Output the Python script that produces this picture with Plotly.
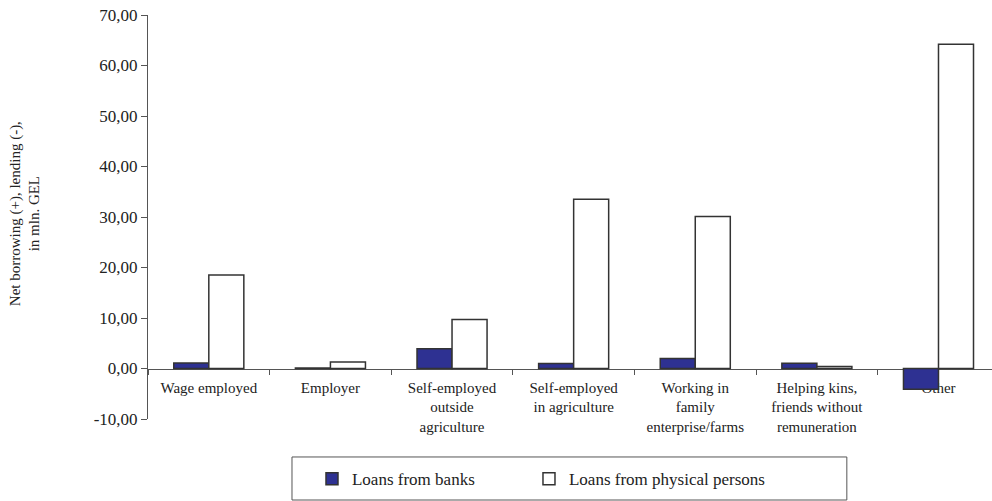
import plotly.graph_objects as go

# Categories of employment status
categories = [
    "Wage employed",
    "Employer",
    "Self-employed<br>outside<br>agriculture",
    "Self-employed<br>in agriculture",
    "Working in<br>family<br>enterprise/farms",
    "Helping kins,<br>friends without<br>remuneration",
    "Other",
]

# Net borrowing (+) / lending (-), mln GEL
loans_from_banks = [1.1, 0.1, 3.9, 1.0, 2.0, 1.05, -4.1]
loans_from_persons = [18.5, 1.3, 9.7, 33.5, 30.1, 0.4, 64.2]

y_ticks = [-10, 0, 10, 20, 30, 40, 50, 60, 70]
y_tick_labels = ["-10,00", "0,00", "10,00", "20,00", "30,00",
                 "40,00", "50,00", "60,00", "70,00"]

FONT = "Liberation Serif, Times New Roman, serif"
INK = "#333333"

fig = go.Figure()
fig.add_trace(go.Bar(
    x=categories, y=loans_from_banks, name="Loans from banks",
    marker=dict(color="#2E3192", line=dict(color=INK, width=1.5)),
    legend="legend",
))
fig.add_trace(go.Bar(
    x=categories, y=loans_from_persons, name="Loans from physical persons",
    marker=dict(color="#ffffff", line=dict(color=INK, width=1.5)),
    legend="legend2",
))

legend_style = dict(
    orientation="h", xanchor="left", y=-0.149, yanchor="middle",
    font=dict(family=FONT, size=17, color="#222"),
    itemwidth=30, bgcolor="rgba(0,0,0,0)",
)

fig.update_layout(
    width=992, height=501,
    margin=dict(l=148, r=0, t=15, b=82),
    paper_bgcolor="white", plot_bgcolor="white",
    barmode="group", bargap=0.424, bargroupgap=0,
    font=dict(family=FONT, size=14, color=INK),
    showlegend=True,
    legend=dict(legend_style, x=0.1943),
    legend2=dict(legend_style, x=0.4514),
    xaxis=dict(
        type="category", range=[-0.5, 6.44],
        anchor="free", position=0.125,
        showline=True, linecolor="#555", linewidth=1,
        tickson="boundaries", ticks="outside", ticklen=5, tickcolor="#555",
        ticklabelstandoff=5,
        showgrid=False, zeroline=False, layer="below traces",
        tickfont=dict(family=FONT, size=15, color="#222"),
        tickangle=0,
    ),
    yaxis=dict(
        range=[-10, 70], tickvals=y_ticks, ticktext=y_tick_labels,
        showline=True, linecolor="#555", linewidth=1,
        ticks="outside", ticklen=6, tickcolor="#555",
        showgrid=False, zeroline=False,
        tickfont=dict(family=FONT, size=17, color="#222"),
    ),
    shapes=[dict(
        type="rect", xref="paper", yref="paper",
        x0=0.1706, x1=0.828, y0=-0.2005, y1=-0.094,
        line=dict(color="#555", width=1), fillcolor="rgba(0,0,0,0)",
    )],
    annotations=[dict(
        text="Net borrowing (+), lending (-),<br>in mln. GEL",
        xref="paper", yref="paper", x=-0.1457, y=0.507,
        xanchor="center", yanchor="middle", textangle=-90,
        showarrow=False, font=dict(family=FONT, size=15, color="#222"),
    )],
)

fig.write_html("out.html")
